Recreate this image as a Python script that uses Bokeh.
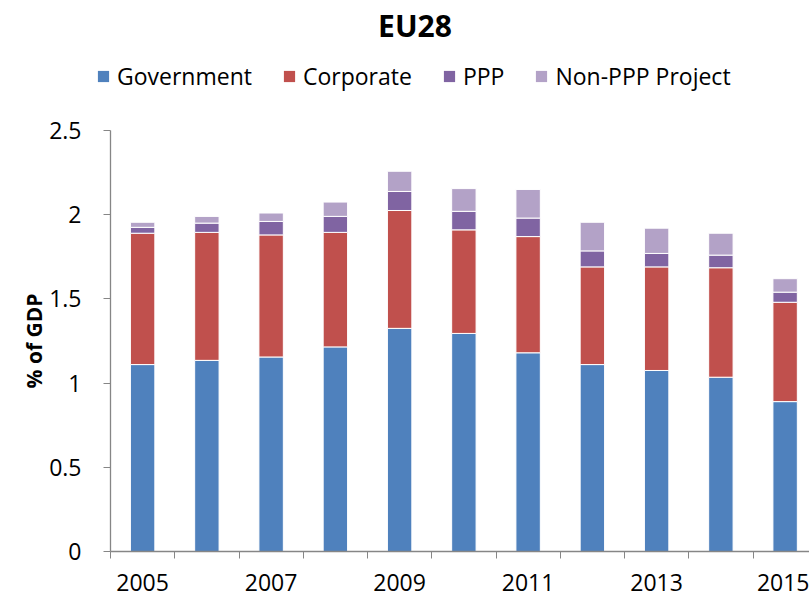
from bokeh.plotting import figure
from bokeh.models import (Range1d, FixedTicker, NumeralTickFormatter, Legend,
                          LegendItem, ColumnDataSource, Label)
from bokeh.embed import file_html
from bokeh.resources import INLINE

# ---- data ----
years = [2005, 2006, 2007, 2008, 2009, 2010, 2011, 2012, 2013, 2014, 2015]
government = [1.11, 1.135, 1.155, 1.215, 1.325, 1.295, 1.18, 1.11, 1.075, 1.035, 0.89]
corporate = [0.78, 0.76, 0.725, 0.68, 0.70, 0.615, 0.69, 0.58, 0.615, 0.65, 0.59]
ppp = [0.035, 0.055, 0.08, 0.095, 0.113, 0.11, 0.11, 0.095, 0.08, 0.075, 0.06]
non_ppp = [0.03, 0.04, 0.05, 0.085, 0.12, 0.135, 0.17, 0.17, 0.15, 0.13, 0.08]
series_names = ["Government", "Corporate", "PPP", "Non-PPP Project"]
series_colors = ["#4F81BD", "#C0504D", "#8064A2", "#B3A2C7"]
y_ticks = [0, 0.5, 1, 1.5, 2, 2.5]
x_label_years = [2005, 2007, 2009, 2011, 2013, 2015]
title_text = "EU28"
y_label = "% of GDP"

FONT = "Open Sans"
AXIS_COLOR = "#868686"
W = 809
TOP_H = 110
MAIN_H = 598 - TOP_H

src = ColumnDataSource(dict(year=years, Government=government, Corporate=corporate,
                            PPP=ppp, **{"Non-PPP Project": non_ppp}))

# ---------------- header figure (title + legend) ----------------
top = figure(width=W, height=TOP_H, output_backend="svg", toolbar_location=None,
             x_axis_type=None, y_axis_type=None,
             x_range=Range1d(0, 1), y_range=Range1d(0, 1),
             min_border=0, min_border_left=0, min_border_right=0,
             min_border_top=0, min_border_bottom=0)
top.outline_line_color = None
top.title.visible = False

# legend swatches: same stacked bars, hidden (only used to draw legend glyphs)
dummy = top.vbar_stack(series_names, x="year", width=0.38, color=series_colors,
                       source=src, line_color=None)
for r in dummy:
    r.visible = False

items = [LegendItem(label=n, renderers=[r]) for n, r in zip(series_names, dummy)]
legend = Legend(items=items, orientation="horizontal", location=(96, 18),
                padding=0, margin=0, spacing=30, label_standoff=7,
                glyph_width=14, glyph_height=14,
                label_text_font_size="23px", label_text_font=FONT,
                label_text_color="#000000", click_policy="none",
                border_line_color=None, background_fill_alpha=0)
top.add_layout(legend, "center")

top.add_layout(Label(x=414.5, y=TOP_H - 25, x_units="screen", y_units="screen",
                     text=title_text, text_font=FONT, text_font_size="30px",
                     text_font_style="bold", text_color="#000000",
                     text_align="center", text_baseline="middle"))

# ---------------- main chart ----------------
# frame: page x 110 -> 809, one category = 64.25 px
cat_px = 64.25
frame_left = 110
frame_w = W - frame_left
x_start = years[0] - 0.5
x_end = x_start + frame_w / cat_px

p = figure(width=W, height=MAIN_H, output_backend="svg", toolbar_location=None,
           x_range=Range1d(x_start, x_end), y_range=Range1d(0, 2.5),
           min_border_left=frame_left, min_border_right=0, min_border_bottom=47,
           min_border_top=20)
p.title.visible = False
p.outline_line_color = None
p.xgrid.visible = False
p.ygrid.visible = False
p.background_fill_color = "white"

p.vbar_stack(series_names, x="year", width=0.38, color=series_colors,
             source=src, line_color="white", line_width=1)

# x axis
xa = p.xaxis[0]
minor = [y - 0.5 for y in years] + [years[-1] + 0.5]
xa.ticker = FixedTicker(ticks=x_label_years, minor_ticks=minor)
xa.major_tick_line_color = None
xa.major_tick_out = 0
xa.major_tick_in = 0
xa.minor_tick_out = 7
xa.minor_tick_in = 0
xa.minor_tick_line_color = AXIS_COLOR
xa.axis_line_color = AXIS_COLOR
xa.axis_line_width = 1.3
xa.major_label_text_font = FONT
xa.major_label_text_font_size = "23px"
xa.major_label_text_color = "#000000"
xa.major_label_standoff = 15

# y axis
ya = p.yaxis[0]
ya.ticker = FixedTicker(ticks=y_ticks)
ya.formatter = NumeralTickFormatter(format="0.[0]")
ya.minor_tick_line_color = None
ya.major_tick_out = 7
ya.major_tick_in = 0
ya.major_tick_line_color = AXIS_COLOR
ya.axis_line_color = AXIS_COLOR
ya.axis_line_width = 1.3
ya.major_label_text_font = FONT
ya.major_label_text_font_size = "23px"
ya.major_label_text_color = "#000000"
ya.major_label_standoff = 22
ya.axis_label = y_label
ya.axis_label_text_font = FONT
ya.axis_label_text_font_size = "21px"
ya.axis_label_text_font_style = "bold"
ya.axis_label_text_color = "#000000"
ya.axis_label_standoff = -2

open("out.html", "w").write(file_html([top, p], INLINE))
